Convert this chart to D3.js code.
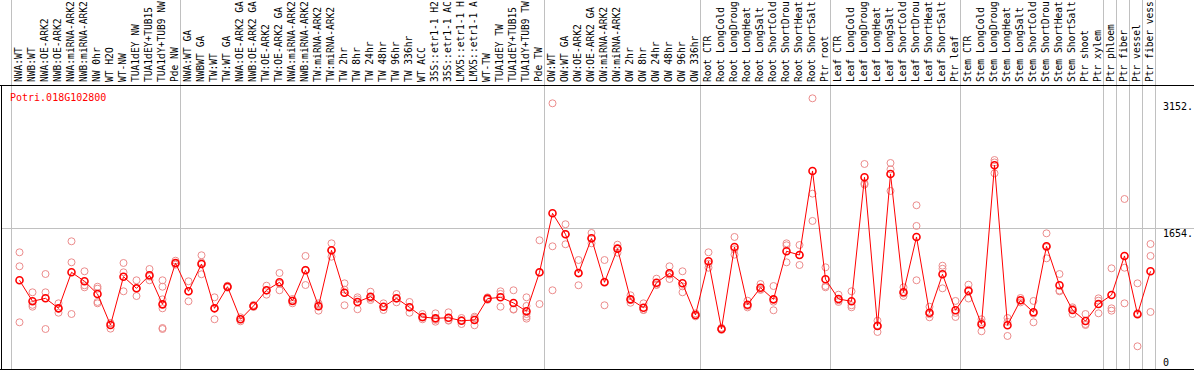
<!DOCTYPE html>
<html><head><meta charset="utf-8">
<script src="https://cdn.jsdelivr.net/npm/d3@7"></script>
<style>
html,body{margin:0;padding:0;background:#fff;}
svg{display:block;}
text{font-family:"DejaVu Sans Mono",monospace;font-size:10px;}
</style></head>
<body>
<svg id="chart" width="1194" height="370"></svg>
<script>
const geneId = "Potri.018G102800";
const categories = ["NWA:WT","NWB:WT","NWA:OE-ARK2","NWB:OE-ARK2","NWA:miRNA-ARK2","NWB:miRNA-ARK2","NW 0hr","WT H2O","WT-NW","TUA1dEY NW","TUA1dEY+TUB15","TUA1dY+TUB9 NW","Pde NW",
"NWA:WT GA","NWBWT GA","TW:WT","TW:WT GA","NWA:OE-ARK2 GA","NWB:OE-ARK2 GA","TW:OE-ARK2","TW:OE-ARK2 GA","NWA:miRNA-ARK2","NWB:miRNA-ARK2","TW:miRNA-ARK2","TW:miRNA-ARK2","TW 2hr","TW 8hr","TW 24hr","TW 48hr","TW 96hr","TW 336hr","WT ACC","35S::etr1-1 H2O","35S::etr1-1 ACC","LMX5::etr1-1 H2O","LMX5::etr1-1 ACC","WT-TW","TUA1dEY TW","TUA1dEY+TUB15 TW","TUA1dY+TUB9 TW","Pde TW",
"OW:WT","OW:WT GA","OW:OE-ARK2","OW:OE-ARK2 GA","OW:miRNA-ARK2","OW:miRNA-ARK2","OW 2hr","OW 8hr","OW 24hr","OW 48hr","OW 96hr","OW 336hr",
"Root CTR","Root LongCold","Root LongDrought","Root LongHeat","Root LongSalt","Root ShortCold","Root ShortDrought","Root ShortHeat","Root ShortSalt","Ptr root",
"Leaf CTR","Leaf LongCold","Leaf LongDrought","Leaf LongHeat","Leaf LongSalt","Leaf ShortCold","Leaf ShortDrought","Leaf ShortHeat","Leaf ShortSalt","Ptr leaf",
"Stem CTR","Stem LongCold","Stem LongDrought","Stem LongHeat","Stem LongSalt","Stem ShortCold","Stem ShortDrought","Stem ShortHeat","Stem ShortSalt","Ptr shoot",
"Ptr xylem","Ptr phloem","Ptr fiber","Ptr vessel","Ptr fiber vessel"];

const means = [1041,793,828,710,1135,1029,879,513,1083,946,1100,757,1245,
911,1233,710,965,581,738,923,1017,797,1159,734,1395,894,785,847,729,828,722,608,592,599,564,572,824,840,773,675,1135,
1831,1584,1127,1536,1017,1414,816,717,1012,1123,1005,631,
1265,466,1434,753,953,816,1383,1339,2331,1053,
820,793,2256,502,2295,899,1552,658,1112,687,
915,522,2398,510,805,663,1442,982,690,560,
761,867,1328,640,1147];

const replicates = [
[1371,1206,545],[899,729,751],[1115,899,466],[769,658,703],[1501,1253,643],[1147,958,982],[965,942,785,769],[533,470,536],[1245,1135,911],[1041,855,942],[1174,1041,1085],[1041,965,816,710,478,466],[1272,1225,1238],
[1029,793,911],[1336,1112,1251],[840,581,709],[977,953,965],[604,557,582],[750,726,738],[977,871,921],[1127,923,1001],[820,769,802],[1328,985,1164],[769,682,751],[1477,1319,1389],[1005,746,931],[840,699,816],[906,808,827],[769,690,728],[879,781,824],[785,658,723],[643,581,600],[651,552,573],[663,564,570],[596,525,571],[611,510,595],[840,810,822],[911,729,880],[923,700,695],[840,738,643,611,588],[1513,761,1131],
[3129,1442,923],[1702,1466,1584],[1280,982,1119],[1599,1477,1532],[1280,746,1025],[1461,1366,1415],[864,776,808],[769,690,692],[1060,985,991],[1206,1056,1107],[1147,899,969],[650,615,628],
[1371,1189,1235],[480,455,463],[1552,1343,1407],[800,738,721],[997,935,927],[973,687,788],[1477,1454,1253],[1457,1221,1339],[3188,2063,1741],[1194,973,958],
[871,785,804],[911,722,746],[2413,2185,2170],[564,431,511],[2425,2350,2095],[958,855,884],[1926,1682,1041],[729,604,641],[1213,946,1177],[797,608,656],
[989,930,826],[581,439,546],[2460,2303,2431],[596,384,550],[832,780,803],[797,545,647],[1595,1300,1431],[1115,911,920],[722,643,705],[643,513,524],
[828,800,651],[1182,710,682],[2000,1189,769],[1005,262,653],[1469,1328,667]];

// group separators: gridline drawn after these category positions (0 = before first)
const groupEnds = [0,13,41,53,63,73,84,85,86,87,88];
const tickValues = [0,1654,3152];
const tickLabels = ["0","1654.","3152."];
const gridValues = [1654];
const maxLabelChars = 14;

const W = 1194, H = 370, headerBottom = 85.5, plotBottom = 369.5;
const svg = d3.select("#chart");

const x = d3.scaleLinear().domain([1, categories.length]).range([19.5, 19.5 + (categories.length-1)*13]);
const y = d3.scaleLinear().domain([0, 3345]).range([368.5, 85]);

// vertical group gridlines (through header and plot)
svg.append("g").selectAll("line").data(groupEnds).join("line")
  .attr("x1", d => x(d) + 5).attr("x2", d => x(d) + 5)
  .attr("y1", 0).attr("y2", plotBottom)
  .attr("stroke", "#c0c0c0").attr("stroke-width", 1).attr("shape-rendering","crispEdges");

// horizontal gridline
svg.append("g").selectAll("line").data(gridValues).join("line")
  .attr("x1", 1).attr("x2", W)
  .attr("y1", d => Math.round(y(d)) + 0.5).attr("y2", d => Math.round(y(d)) + 0.5)
  .attr("stroke", "#c0c0c0").attr("stroke-width", 1).attr("shape-rendering","crispEdges");

// frame
svg.append("line").attr("x1",0).attr("x2",W).attr("y1",headerBottom).attr("y2",headerBottom).attr("stroke","#000").attr("shape-rendering","crispEdges");
svg.append("line").attr("x1",1.5).attr("x2",1.5).attr("y1",headerBottom).attr("y2",H).attr("stroke","#000").attr("shape-rendering","crispEdges");
svg.append("line").attr("x1",0).attr("x2",W).attr("y1",plotBottom).attr("y2",plotBottom).attr("stroke","#000").attr("shape-rendering","crispEdges");

// header labels (rotated, shown truncated like the source)
svg.append("g").selectAll("text").data(categories).join("text")
  .attr("transform", (d,i) => `translate(${x(i+1)+2.5},82) rotate(-90)`)
  .attr("text-anchor","start").attr("fill","#000")
  .style("font-size","9.6px")
  .text(d => d.slice(0, maxLabelChars))
  .append("title").text(d => d);

// right axis labels
const axisG = svg.append("g");
axisG.selectAll("text").data(tickValues).join("text")
  .attr("x", 1163)
  .attr("y", (d,i) => d === 0 ? y(d) - 3 : y(d) + 8.5)
  .attr("fill","#000")
  .text((d,i) => tickLabels[i]);

// gene label
svg.append("text").attr("x",10).attr("y",101).attr("fill","#ff0000").text(geneId);

// replicate points
const repPts = [];
replicates.forEach((arr,i) => arr.forEach(v => repPts.push({i: i+1, v})));
svg.append("g").selectAll("circle").data(repPts).join("circle")
  .attr("cx", d => x(d.i)).attr("cy", d => y(d.v)).attr("r", 3.5)
  .attr("fill","none").attr("stroke","#ec8c8c").attr("stroke-width",1);

// mean line
const line = d3.line().x((d,i) => x(i+1)).y(d => y(d));
svg.append("path").datum(means).attr("d", line)
  .attr("fill","none").attr("stroke","#ff0000").attr("stroke-width",1);

// mean points
svg.append("g").selectAll("circle").data(means).join("circle")
  .attr("cx", (d,i) => x(i+1)).attr("cy", d => y(d)).attr("r", 3.5)
  .attr("fill","none").attr("stroke","#ff0000").attr("stroke-width",1.6);
</script>
</body></html>
